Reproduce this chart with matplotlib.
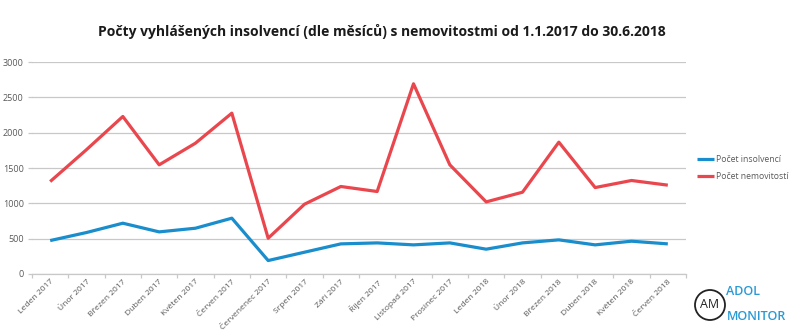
import matplotlib
matplotlib.use('Agg')
from matplotlib import pyplot as plt
from matplotlib.patches import Circle
from matplotlib.ticker import FixedLocator

# Data
months = ['Leden 2017', 'Únor 2017', 'Březen 2017', 'Duben 2017', 'Květen 2017', 'Červen 2017',
          'Červenenec 2017', 'Srpen 2017', 'Září 2017', 'Říjen 2017', 'Listopad 2017', 'Prosinec 2017',
          'Leden 2018', 'Únor 2018', 'Březen 2018', 'Duben 2018', 'Květen 2018', 'Červen 2018']
insolvence = [472, 586, 718, 595, 647, 789, 189, 307, 425, 439, 411, 439, 350, 439, 482, 411, 463, 425]
nemovitosti = [1308, 1760, 2230, 1545, 1852, 2277, 505, 987, 1238, 1167, 2693, 1545, 1020, 1157, 1866, 1223, 1323, 1257]

blue = '#1a8dcc'
red = '#e9474d'
grey_text = '#595959'

plt.rcParams['font.family'] = ['Open Sans', 'DejaVu Sans']

fig = plt.figure(figsize=(8, 3.34), dpi=100)
ax = fig.add_axes([0.04, 0.18, 0.8175, 0.634])

x = list(range(len(months)))
ax.plot(x, insolvence, color=blue, linewidth=2.3, label='Počet insolvencí', solid_capstyle='butt')
ax.plot(x, nemovitosti, color=red, linewidth=2.3, label='Počet nemovitostí', solid_capstyle='butt')

ax.set_xlim(-0.5, len(months) - 0.5)
ax.set_ylim(0, 3000)
ax.set_yticks(range(0, 3001, 500))
ax.yaxis.grid(True, color='#c8c8c8', linewidth=0.9)
ax.set_axisbelow(True)

# category labels at centres, tick marks at category boundaries
ax.set_xticks(x)
ax.set_xticklabels(months, rotation=45, ha='right', rotation_mode='anchor', fontsize=6.1, color=grey_text)
ax.tick_params(axis='x', which='major', length=0, pad=3)
ax.xaxis.set_minor_locator(FixedLocator([i - 0.5 for i in range(len(months) + 1)]))
ax.tick_params(axis='x', which='minor', length=3, color='#c8c8c8', width=0.9)
ax.tick_params(axis='y', length=3, color='#c8c8c8', width=0.9, labelsize=6.5, labelcolor=grey_text, pad=3)

for side in ['left', 'right', 'top']:
    ax.spines[side].set_visible(False)
ax.spines['bottom'].set_color('#c8c8c8')
ax.spines['bottom'].set_linewidth(0.9)

fig.text(0.477, 0.905, 'Počty vyhlášených insolvencí (dle měsíců) s nemovitostmi od 1.1.2017 do 30.6.2018',
         ha='center', va='center', fontsize=10, fontweight='bold', color='#1a1a1a')

ax.legend(loc='center left', bbox_to_anchor=(1.005, 0.5), frameon=False, fontsize=6.2,
          handlelength=2.0, handletextpad=0.2, labelspacing=1.0, labelcolor=grey_text)

# ADOL MONITOR logo
circ = Circle((7.1, 0.29), 0.15, transform=fig.dpi_scale_trans, fill=False,
              edgecolor='#222222', linewidth=1.3)
fig.add_artist(circ)
fig.text(7.1 / 8, 0.29 / 3.34, 'AM', ha='center', va='center', fontsize=9, color='#222222')
fig.text(0.908, 0.128, 'ADOL', ha='left', va='center', fontsize=9, color='#2a9ad6', fontweight='semibold')
fig.text(0.908, 0.052, 'MONITOR', ha='left', va='center', fontsize=9, color='#2a9ad6', fontweight='semibold')

plt.savefig('out.png', dpi=100)
